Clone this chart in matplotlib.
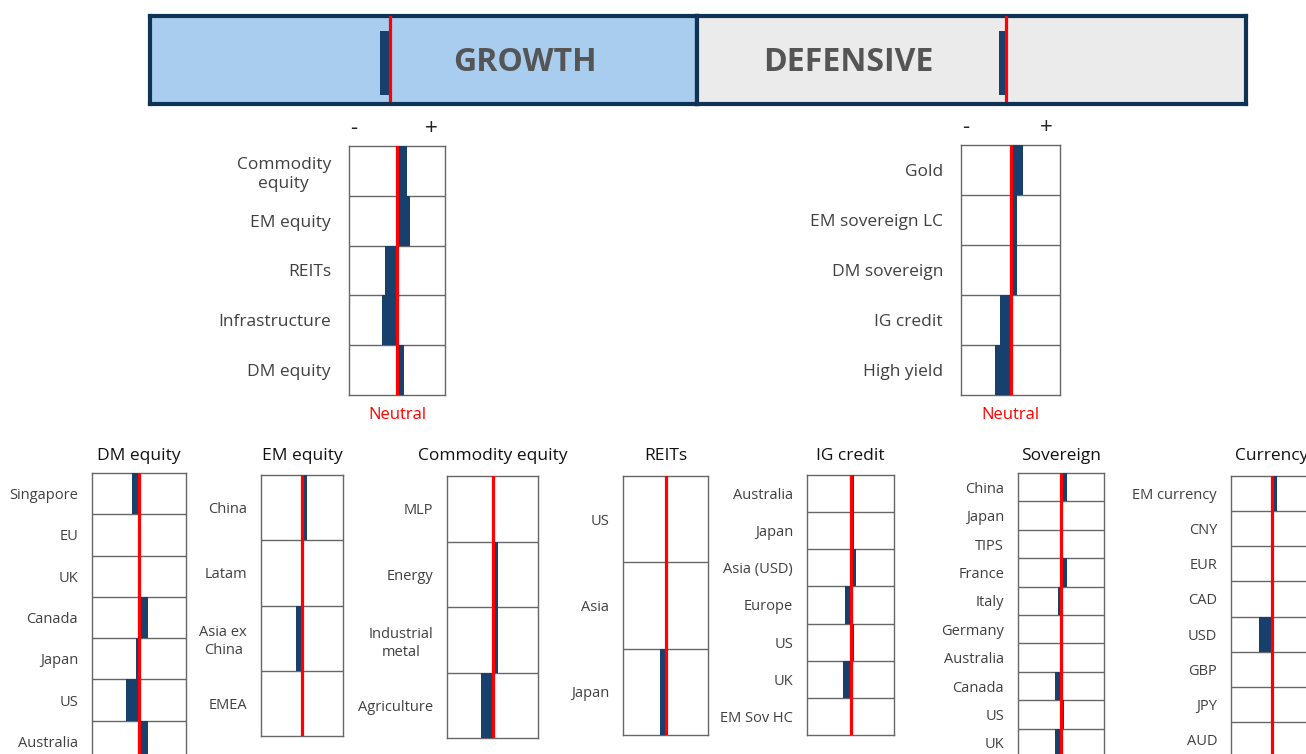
import matplotlib
matplotlib.use('Agg')
import matplotlib.pyplot as plt

plt.rcParams['font.family'] = ['Open Sans', 'DejaVu Sans']

W, H = 1306, 754
NAVY = '#17406d'
RED = '#ff0000'
GRID = '#666666'
LABEL = '#404040'

# top banner: tilt of growth vs defensive (fraction of the banner width)
banner_names = ['GROWTH', 'DEFENSIVE']
banner_tilt = [-0.018, -0.013]

# middle panels (scale -1 .. +1)
growth_labels = ['Commodity\nequity', 'EM equity', 'REITs', 'Infrastructure', 'DM equity']
growth_tilt = [0.21, 0.27, -0.24, -0.31, 0.15]

defensive_labels = ['Gold', 'EM sovereign LC', 'DM sovereign', 'IG credit', 'High yield']
defensive_tilt = [0.26, 0.13, 0.13, -0.21, -0.32]

# bottom panels (scale -1 .. +1)
dm_labels = ['Singapore', 'EU', 'UK', 'Canada', 'Japan', 'US', 'Australia']
dm_tilt = [-0.14, 0.05, 0.0, 0.19, -0.07, -0.28, 0.19]

em_labels = ['China', 'Latam', 'Asia ex\nChina', 'EMEA']
em_tilt = [0.11, 0.0, -0.14, 0.0]

comm_labels = ['MLP', 'Energy', 'Industrial\nmetal', 'Agriculture']
comm_tilt = [0.0, 0.12, 0.12, -0.26]

reit_labels = ['US', 'Asia', 'Japan']
reit_tilt = [0.0, 0.0, -0.14]

ig_labels = ['Australia', 'Japan', 'Asia (USD)', 'Europe', 'US', 'UK', 'EM Sov HC']
ig_tilt = [0.07, 0.07, 0.13, -0.13, 0.08, -0.18, 0.0]

sov_labels = ['China', 'Japan', 'TIPS', 'France', 'Italy', 'Germany', 'Australia',
              'Canada', 'US', 'UK']
sov_tilt = [0.14, 0.0, 0.0, 0.14, -0.06, 0.0, 0.0, -0.13, 0.07, -0.13]

fx_labels = ['EM currency', 'CNY', 'EUR', 'CAD', 'USD', 'GBP', 'JPY', 'AUD']
fx_tilt = [0.13, 0.0, 0.0, 0.06, -0.31, 0.0, 0.06, 0.06]

fig = plt.figure(figsize=(W / 100, H / 100), dpi=100)


def px_axes(left, top, width, height):
    return fig.add_axes([left / W, 1 - (top + height) / H, width / W, height / H])


def tilt_panel(ax, labels, values, fs, pad):
    n = len(labels)
    y = list(range(n))
    ax.barh(y, values, height=1.0, color=NAVY, zorder=3)
    for i in range(n - 1):
        ax.axhline(i + 0.5, color=GRID, lw=1.0, zorder=2)
    ax.axvline(0, color=RED, lw=2.3, zorder=4)
    ax.set_xlim(-1, 1)
    ax.set_ylim(n - 0.5, -0.5)
    ax.set_xticks([])
    ax.set_yticks(y)
    ax.set_yticklabels(labels, fontsize=fs, color=LABEL, linespacing=1.3)
    for t in ax.get_yticklabels():
        t.set_multialignment('center')
    ax.tick_params(axis='y', length=0, pad=pad)
    for s in ax.spines.values():
        s.set_color(GRID)
        s.set_linewidth(1.0)


# ---- top banner ----
banner_fill = ['#a9cdef', '#ebebeb']
banner_box = [(150, 16, 547, 88), (697, 16, 549, 88)]
banner_xlim = [(-0.439, 0.561), (-0.563, 0.437)]
banner_text_x = [0.686, 0.275]
for k in range(2):
    ax = px_axes(*banner_box[k])
    ax.set_facecolor(banner_fill[k])
    ax.bar([banner_tilt[k] / 2], [0.73], width=abs(banner_tilt[k]), bottom=0.10,
           color=NAVY, zorder=3)
    ax.axvline(0, ymin=0.04, color=RED, lw=2.3, zorder=4)
    ax.set_xlim(*banner_xlim[k])
    ax.set_ylim(0, 1)
    ax.set_xticks([])
    ax.set_yticks([])
    ax.text(banner_text_x[k], 0.47, banner_names[k], transform=ax.transAxes,
            ha='center', va='center', fontsize=23, fontweight='bold', color='#555555')
    for s in ax.spines.values():
        s.set_color('#0f3354')
        s.set_linewidth(3.0)

# ---- middle panels ----
mid = [
    ((349, 146, 96, 249), growth_labels, growth_tilt),
    ((961, 145, 99, 250), defensive_labels, defensive_tilt),
]
for box, labels, vals in mid:
    ax = px_axes(*box)
    tilt_panel(ax, labels, vals, 12.5, 13)
    ax.text(0.05, 1.07, '-', transform=ax.transAxes, ha='center', va='center',
            fontsize=16, color='#222222')
    ax.text(0.86, 1.07, '+', transform=ax.transAxes, ha='center', va='center',
            fontsize=16, color='#222222')
    ax.text(0.5, -0.08, 'Neutral', transform=ax.transAxes, ha='center', va='center',
            fontsize=12, color=RED)

# ---- bottom panels ----
bottom = [
    ((92, 473, 94, 289), 'DM equity', dm_labels, dm_tilt),
    ((261, 475, 82, 261), 'EM equity', em_labels, em_tilt),
    ((447, 476, 91, 262), 'Commodity equity', comm_labels, comm_tilt),
    ((623, 476, 85, 259), 'REITs', reit_labels, reit_tilt),
    ((807, 475, 87, 260), 'IG credit', ig_labels, ig_tilt),
    ((1018, 473, 86, 284), 'Sovereign', sov_labels, sov_tilt),
    ((1231, 476, 82, 281), 'Currency', fx_labels, fx_tilt),
]
for box, title, labels, vals in bottom:
    ax = px_axes(*box)
    tilt_panel(ax, labels, vals, 10.5, 10)
    top_px = box[1]
    ax.text(0.5, 1 + (top_px - 456) / box[3], title, transform=ax.transAxes,
            ha='center', va='center', fontsize=12.5, color='#111111')

fig.savefig('out.png', dpi=100)
